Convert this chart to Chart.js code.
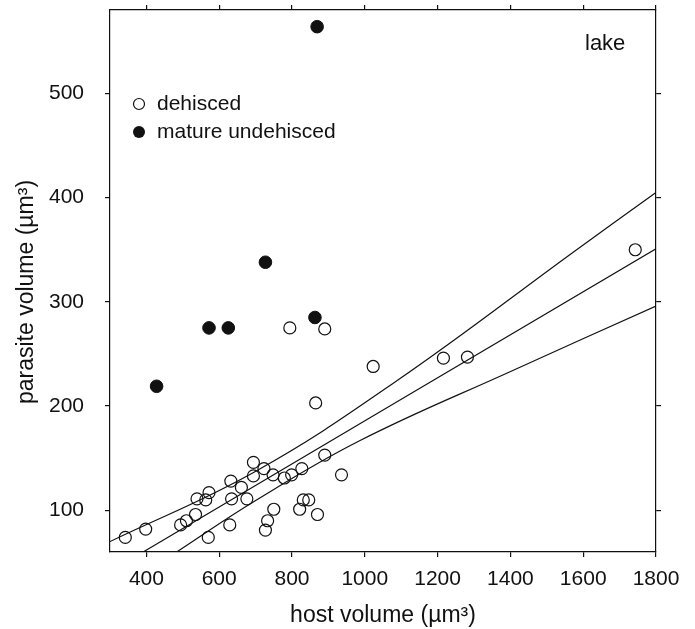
<!DOCTYPE html>
<html>
<head>
<meta charset="utf-8">
<script src="https://cdn.jsdelivr.net/npm/chart.js@4"></script>
<style>
  html, body { margin: 0; padding: 0; background: #fff; }
</style>
</head>
<body>
<canvas id="chart" width="695" height="629"></canvas>
<script>
const xTicks = [400, 600, 800, 1000, 1200, 1400, 1600, 1800];
const yTicks = [100, 200, 300, 400, 500];

// dehisced (open circles)
const dehiscedX = [342, 398, 494, 510, 535, 539, 563, 572, 570, 629, 632, 634, 661, 676, 694, 694,
  723, 727, 733, 748, 750, 779, 799, 821, 827, 831, 846, 870, 890, 936, 865, 794, 890, 1023, 1216, 1282, 1743];
const dehiscedY = [74, 82, 86, 90, 96, 111, 110, 117, 74, 86, 128, 111, 122, 111, 146, 133,
  140, 81, 90, 134, 101, 131, 134, 101, 140, 110, 110, 96, 153, 134, 203, 275, 274, 238, 246, 247, 350];

// mature undehisced (filled circles)
const undehiscedX = [428, 572, 625, 727, 863, 869];
const undehiscedY = [219, 275, 275, 338, 285, 564];

// regression line and its confidence band
const fitX = [391, 1800];
const fitY = [60, 351];
const upperX = [300, 698, 1087, 1582, 1800];
const upperY = [70, 137, 224, 350, 405];
const lowerX = [483, 698, 987, 1399, 1800];
const lowerY = [60, 109, 167, 233, 296];

const FONT = '"Liberation Sans", Arial, Helvetica, sans-serif';
const INK = '#111';

const toPoints = (xs, ys) => xs.map((x, i) => ({ x: x, y: ys[i] }));

function fixedTicks(values) {
  return scale => { scale.ticks = values.map(v => ({ value: v })); };
}
// pin the axis thickness so the plot frame lands where it does in the figure
function fixedSize(size) {
  return scale => {
    if (scale.isHorizontal()) scale.height = size;
    else scale.width = size;
    scale.paddingTop = scale.paddingBottom = scale.paddingLeft = scale.paddingRight = 0;
  };
}

function frameAxis(axis, position, min, max, values, size, extra) {
  return Object.assign({
    type: 'linear',
    axis: axis,
    position: position,
    display: true,
    min: min,
    max: max,
    afterBuildTicks: fixedTicks(values),
    afterFit: fixedSize(size),
    grid: { drawOnChartArea: false, drawTicks: true, tickLength: 5, color: INK, lineWidth: 1.2 },
    border: { display: true, color: INK, width: 1.2 },
    ticks: { display: false }
  }, extra || {});
}

const lineStyle = {
  type: 'line',
  borderColor: INK,
  borderWidth: 1.2,
  pointRadius: 0,
  fill: false,
  tension: 0.4
};

// legend, panel label and the y title (sits a bit below the plot's middle)
const annotations = {
  id: 'annotations',
  afterDraw(chart) {
    const ctx = chart.ctx;
    ctx.save();
    ctx.fillStyle = INK;
    ctx.strokeStyle = INK;
    ctx.lineWidth = 1.2;
    ctx.font = '21px ' + FONT;
    ctx.textBaseline = 'middle';
    ctx.textAlign = 'left';

    ctx.beginPath();
    ctx.arc(139, 104, 5.5, 0, Math.PI * 2);
    ctx.stroke();
    ctx.fillText('dehisced', 157, 104);

    ctx.beginPath();
    ctx.arc(139, 132, 6, 0, Math.PI * 2);
    ctx.fill();
    ctx.fillText('mature undehisced', 157, 132);

    ctx.font = '22px ' + FONT;
    ctx.textBaseline = 'alphabetic';
    ctx.fillText('lake', 585, 49.5);

    ctx.font = '23px ' + FONT;
    ctx.textAlign = 'center';
    ctx.textBaseline = 'middle';
    ctx.translate(26.5, 292);
    ctx.rotate(-Math.PI / 2);
    ctx.fillText('parasite volume (µm³)', 0, 0);
    ctx.restore();
  }
};

new Chart(document.getElementById('chart'), {
  type: 'scatter',
  data: {
    datasets: [
      Object.assign({ label: 'fit', data: toPoints(fitX, fitY) }, lineStyle),
      Object.assign({ label: 'upper', data: toPoints(upperX, upperY) }, lineStyle),
      Object.assign({ label: 'lower', data: toPoints(lowerX, lowerY) }, lineStyle),
      {
        label: 'dehisced',
        data: toPoints(dehiscedX, dehiscedY),
        pointStyle: 'circle',
        pointRadius: 6,
        borderWidth: 1.2,
        borderColor: INK,
        backgroundColor: 'rgba(0,0,0,0)'
      },
      {
        label: 'mature undehisced',
        data: toPoints(undehiscedX, undehiscedY),
        pointStyle: 'circle',
        pointRadius: 6.3,
        borderWidth: 1,
        borderColor: INK,
        backgroundColor: INK
      }
    ]
  },
  options: {
    responsive: false,
    animation: false,
    layout: { padding: 0 },
    plugins: { legend: { display: false }, tooltip: { enabled: false } },
    scales: {
      x: frameAxis('x', 'bottom', 300, 1800, xTicks, 77, {
        ticks: { display: true, color: INK, font: { family: FONT, size: 21 }, padding: 10, maxRotation: 0, autoSkip: false, callback: v => String(v) },
        title: { display: true, text: 'host volume (µm³)', color: INK, font: { family: FONT, size: 23 }, padding: 0 }
      }),
      xTop: frameAxis('x', 'top', 300, 1800, xTicks, 10),
      y: frameAxis('y', 'left', 60, 580, yTicks, 110, {
        ticks: { display: true, color: INK, font: { family: FONT, size: 21 }, padding: 21, callback: v => String(v) }
      }),
      yRight: frameAxis('y', 'right', 60, 580, yTicks, 39)
    }
  },
  plugins: [annotations]
});
</script>
</body>
</html>
